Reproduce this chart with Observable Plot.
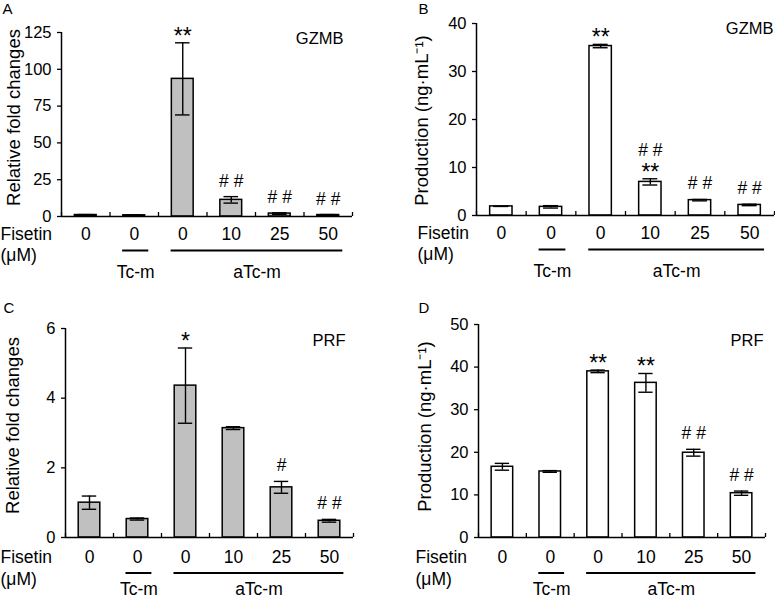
<!DOCTYPE html>
<html><head><meta charset="utf-8">
<script src="https://cdn.jsdelivr.net/npm/d3@7"></script>
<script src="https://cdn.jsdelivr.net/npm/@observablehq/plot@0.6"></script>
<style>
body{margin:0;background:#fff}
#wrap{position:relative;width:775px;height:598px;overflow:hidden;background:#fff}
.panel{position:absolute}
</style>
</head><body><div id="wrap"></div>
<script>
// ---------- data ----------
const categories = [1, 2, 3, 4, 5, 6];
const xTickLabels = ["0", "0", "0", "10", "25", "50"];
const groupLabels = ["Tc-m", "aTc-m"];
const groupFrom = [2, 3];
const groupTo = [2, 6];

// A: GZMB relative fold changes
const aValues = [1.0, 0.8, 93.5, 11.3, 2.0, 1.0];
const aErrors = [0.3, 0.2, 24.5, 2.2, 0.5, 0.3];
const aStars  = ["", "", "**", "", "", ""];
const aHashes = ["", "", "", "##", "##", "##"];
const aTicks  = [0, 25, 50, 75, 100, 125];

// B: GZMB production
const bValues = [1.9, 1.8, 35.3, 7.0, 3.2, 2.2];
const bErrors = [0.0, 0.25, 0.35, 0.65, 0.15, 0.15];
const bStars  = ["", "", "**", "**", "", ""];
const bHashes = ["", "", "", "##", "##", "##"];
const bTicks  = [0, 10, 20, 30, 40];

// C: PRF relative fold changes
const cValues = [1.0, 0.53, 4.36, 3.14, 1.44, 0.48];
const cErrors = [0.19, 0.03, 1.08, 0.04, 0.17, 0.04];
const cStars  = ["", "", "*", "", "", ""];
const cHashes = ["", "", "", "", "#", "##"];
const cTicks  = [0, 2, 4, 6];

// D: PRF production
const dValues = [16.6, 15.5, 39.0, 36.3, 19.9, 10.4];
const dErrors = [0.8, 0.2, 0.3, 2.2, 0.8, 0.5];
const dStars  = ["", "", "**", "**", "", ""];
const dHashes = ["", "", "", "", "##", "##"];
const dTicks  = [0, 10, 20, 30, 40, 50];

// ---------- layout ----------
const FONT = "'Liberation Sans', Arial, Helvetica, sans-serif";
const topRows = {tick: 23, line: 34, unit: 44, group: 61};
const botRows = {tick: 25, line: 35.5, unit: 47, group: 57.5};

const panels = [
  {letter: "A", gene: "GZMB", ylabel: "Relative fold changes", values: aValues, errors: aErrors, stars: aStars, hashes: aHashes, ticks: aTicks,
   left: 0, top: 0, width: 385, height: 290, ml: 61, mt: 32, mr: 33, mb: 74, fill: "#c0c0c0",
   letterX: 2, letterY: 13, geneRight: 343, geneBase: 43, ylabelX: 14, ylabelY: 117, textLeft: 0, rows: topRows},
  {letter: "B", gene: "GZMB", ylabel: "Production (ng·mL⁻¹)", values: bValues, errors: bErrors, stars: bStars, hashes: bHashes, ticks: bTicks,
   left: 385, top: 0, width: 390, height: 290, ml: 91, mt: 23, mr: 1, mb: 75, fill: "#ffffff",
   letterX: 33, letterY: 13, geneRight: 388, geneBase: 33, ylabelX: 37, ylabelY: 120, textLeft: 32, rows: topRows},
  {letter: "C", gene: "PRF", ylabel: "Relative fold changes", values: cValues, errors: cErrors, stars: cStars, hashes: cHashes, ticks: cTicks,
   left: 0, top: 290, width: 385, height: 308, ml: 65, mt: 38, mr: 32, mb: 61, fill: "#c0c0c0",
   letterX: 3, letterY: 22, geneRight: 345, geneBase: 55, ylabelX: 13, ylabelY: 135, textLeft: 0, rows: botRows},
  {letter: "D", gene: "PRF", ylabel: "Production (ng·mL⁻¹)", values: dValues, errors: dErrors, stars: dStars, hashes: dHashes, ticks: dTicks,
   left: 385, top: 290, width: 390, height: 308, ml: 93, mt: 34, mr: 10, mb: 61, fill: "#ffffff",
   letterX: 33, letterY: 22, geneRight: 378, geneBase: 55, ylabelX: 40, ylabelY: 136, textLeft: 30, rows: botRows}
];

const wrap = document.getElementById("wrap");
const bounds = [0.5, 1.5, 2.5, 3.5, 4.5, 5.5, 6.5];
const groups = groupLabels.map((label, k) => ({label, from: groupFrom[k], to: groupTo[k]}));
const hw = 0.225, cap = 0.15;

for (const p of panels) {
  const rows = categories.map((c, k) => ({
    i: c, v: p.values[k], lo: p.values[k] - p.errors[k], hi: p.values[k] + p.errors[k],
    star: p.stars[k], hash: p.hashes[k].split("").join(" ")
  }));
  const frameH = p.height - p.mt - p.mb;
  const frameMid = p.mt + frameH / 2;
  const yMax = p.ticks[p.ticks.length - 1];
  const chart = Plot.plot({
    width: p.width, height: p.height,
    marginLeft: p.ml, marginRight: p.mr, marginTop: p.mt, marginBottom: p.mb,
    style: {fontFamily: FONT, fontSize: "16px", overflow: "visible", background: "transparent", color: "black"},
    x: {domain: [0.5, 6.5], axis: null},
    y: {domain: [0, yMax], axis: null},
    marks: [
      Plot.rectY(rows, {x1: d => d.i - hw, x2: d => d.i + hw, y: "v", fill: p.fill, stroke: "black", strokeWidth: 1.5}),
      Plot.ruleX(rows, {x: "i", y1: "lo", y2: "hi", stroke: "black", strokeWidth: 1.4}),
      Plot.ruleY(rows, {y: "hi", x1: d => d.i - cap, x2: d => d.i + cap, stroke: "black", strokeWidth: 1.4}),
      Plot.ruleY(rows, {y: "lo", x1: d => d.i - cap, x2: d => d.i + cap, stroke: "black", strokeWidth: 1.4}),
      // axes
      Plot.ruleX([0.5], {stroke: "black", strokeWidth: 1.5}),
      Plot.ruleY([0], {stroke: "black", strokeWidth: 1.5}),
      Plot.tickX(bounds, {x: d => d, insetTop: frameH - 4, stroke: "black", strokeWidth: 1.3}),
      Plot.axisY({ticks: p.ticks, tickSize: 4, tickPadding: 6, fontSize: 16.5, label: null, tickFormat: d => String(d), strokeWidth: 1.3}),
      Plot.text(rows, {x: "i", y: 0, text: d => xTickLabels[d.i - 1], fontSize: 17.5, lineAnchor: "bottom", dy: p.rows.tick}),
      // significance
      Plot.text(rows.filter(d => d.star), {x: "i", y: "hi", text: "star", fontSize: 23, lineAnchor: "bottom", dy: 1}),
      Plot.text(rows.filter(d => d.hash && !d.star), {x: "i", y: "hi", text: "hash", fontSize: 17.5, lineAnchor: "bottom", dy: -10}),
      Plot.text(rows.filter(d => d.hash && d.star), {x: "i", y: "hi", text: "hash", fontSize: 17.5, lineAnchor: "bottom", dy: -23}),
      // row labels
      Plot.text(["Fisetin"], {x: 0.5, y: 0, text: d => d, textAnchor: "start", lineAnchor: "bottom", fontSize: 17.5, dx: p.textLeft - p.ml, dy: p.rows.tick}),
      Plot.text(["(μM)"], {x: 0.5, y: 0, text: d => d, textAnchor: "start", lineAnchor: "bottom", fontSize: 17.5, dx: p.textLeft - p.ml, dy: p.rows.unit}),
      Plot.ruleY(groups, {y: 0, x1: d => d.from - 0.24, x2: d => d.to + 0.3, dy: p.rows.line, stroke: "black", strokeWidth: 2}),
      Plot.text(groups, {x: d => (d.from + d.to) / 2 + 0.03, y: 0, text: "label", fontSize: 17.5, lineAnchor: "bottom", dy: p.rows.group}),
      // titles
      Plot.text([p.letter], {frameAnchor: "top-left", text: d => d, textAnchor: "start", lineAnchor: "bottom", fontSize: 15, dx: p.letterX - p.ml, dy: p.letterY - p.mt}),
      Plot.text([p.gene], {frameAnchor: "top-right", text: d => d, textAnchor: "end", lineAnchor: "bottom", fontSize: 16.5, dx: p.geneRight - (p.width - p.mr), dy: p.geneBase - p.mt}),
      Plot.text([p.ylabel], {frameAnchor: "left", text: d => d, rotate: -90, textAnchor: "middle", lineAnchor: "middle", fontSize: 18.5, dx: p.ylabelX - p.ml, dy: p.ylabelY - frameMid})
    ]
  });
  const div = document.createElement("div");
  div.className = "panel";
  div.style.left = p.left + "px";
  div.style.top = p.top + "px";
  div.appendChild(chart);
  wrap.appendChild(div);
}
</script></body></html>
